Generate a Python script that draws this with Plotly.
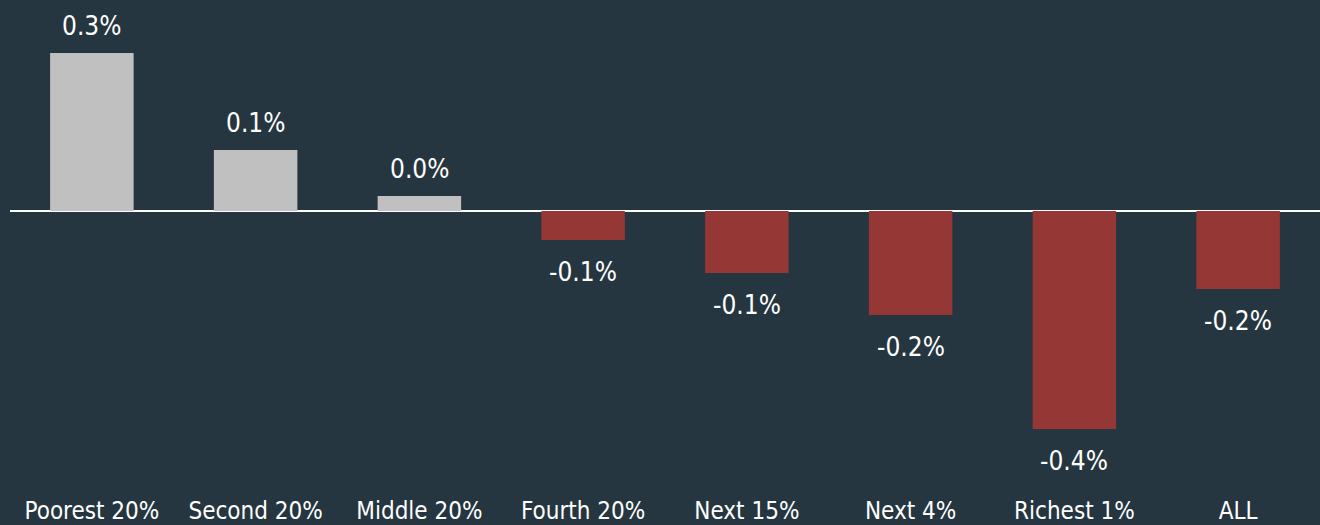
import plotly.graph_objects as go

categories = ["Poorest 20%", "Second 20%", "Middle 20%", "Fourth 20%",
              "Next 15%", "Next 4%", "Richest 1%", "ALL"]
values = [0.316, 0.122, 0.030, -0.058, -0.124, -0.208, -0.436, -0.156]

BG = "#253640"
POS = "#c0c0c0"
NEG = "#953735"
FONT = "Liberation Sans Narrow, DejaVu Sans Condensed, Arial Narrow, sans-serif"

colors = [POS if v >= 0 else NEG for v in values]

fig = go.Figure(go.Bar(
    x=categories, y=values,
    marker=dict(color=colors, line=dict(width=0)),
    hoverinfo="skip",
))

annotations = []
for c, v in zip(categories, values):
    annotations.append(dict(
        x=c, y=v, xref="x", yref="y",
        text=f"{v:.1f}%", showarrow=False,
        yanchor="middle", yshift=27 if v >= 0 else -32,
        font=dict(family=FONT, size=26, color="#ffffff"),
    ))

fig.update_layout(
    width=1320, height=525,
    paper_bgcolor=BG, plot_bgcolor=BG,
    margin=dict(l=10, r=0, t=0, b=35),
    bargap=0.49,
    showlegend=False,
    annotations=annotations,
    xaxis=dict(
        showgrid=False, zeroline=False, showline=False, ticks="",
        tickfont=dict(family=FONT, size=24, color="#ffffff"),
        ticklabelstandoff=4,
        fixedrange=True,
    ),
    yaxis=dict(
        range=[-0.558, 0.422], showgrid=False, showticklabels=False,
        zeroline=True, zerolinecolor="#ffffff", zerolinewidth=1.5,
        fixedrange=True,
    ),
)

fig.write_html(
    "out.html",
    config={"displayModeBar": False},
    post_script="document.body.style.margin='0';document.body.style.background='%s';" % BG,
)
